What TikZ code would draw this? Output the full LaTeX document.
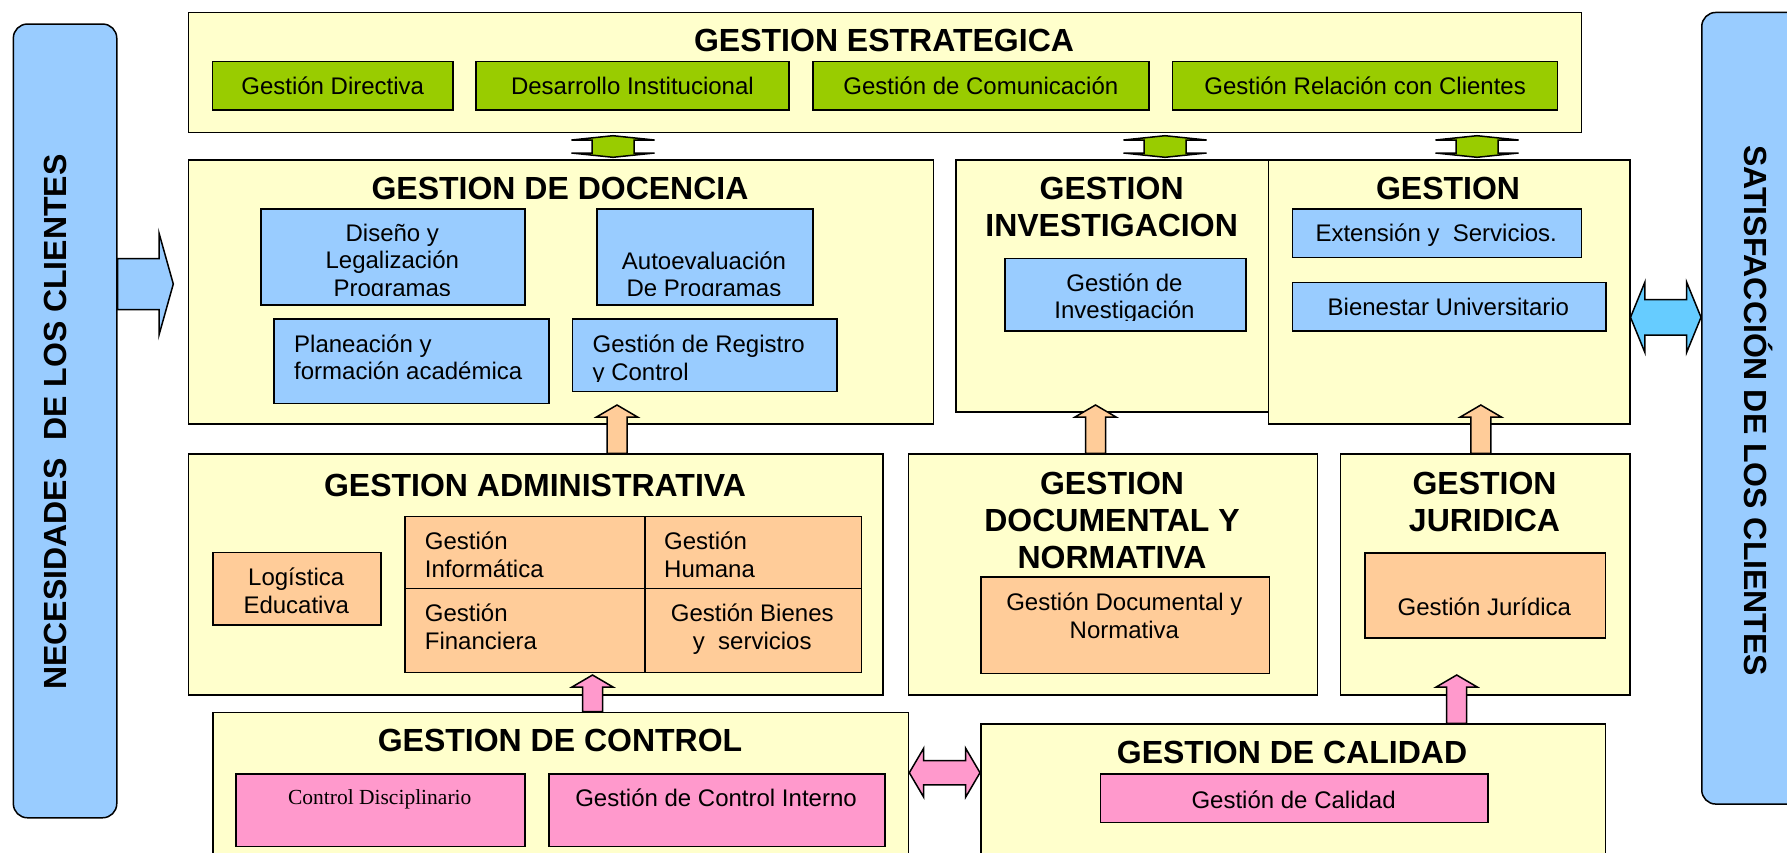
\documentclass[tikz,border=0pt]{standalone}
\usepackage{fontspec}
\setmainfont{Liberation Sans}
\newfontfamily\serifcd{Liberation Serif}
\usetikzlibrary{calc}

\definecolor{paleyellow}{HTML}{FFFFCC}
\definecolor{leafgreen}{HTML}{99CC00}
\definecolor{skyblue}{HTML}{99CCFF}
\definecolor{cyanarrow}{HTML}{66CCFF}
\definecolor{peach}{HTML}{FFCC99}
\definecolor{rosepink}{HTML}{FF99CC}

\tikzset{
  block/.style={draw, line width=1.5pt, fill=paleyellow, inner sep=0pt},
  greenbox/.style={block, fill=leafgreen},
  bluebox/.style={block, fill=skyblue},
  peachbox/.style={block, fill=peach},
  pinkbox/.style={block, fill=rosepink},
  sidebar/.style={block, fill=skyblue, rounded corners=14pt},
  title/.style={inner sep=0pt, align=center, font=\fontsize{32}{37}\selectfont\bfseries},
  txt/.style={inner sep=0pt, align=center, font=\fontsize{24}{27.5}\selectfont},
  sidetxt/.style={inner sep=0pt, font=\fontsize{32}{36}\selectfont\bfseries},
  blockarrow/.style={draw, line width=1.5pt, line join=miter},
}

% box given by its top left and bottom right corners
\newcommand{\cornerbox}[6]{%
  \pgfmathsetmacro{\boxw}{#5-#3}\pgfmathsetmacro{\boxh}{#6-#4}%
  \node[#1, anchor=north west, minimum width=\boxw pt, minimum height=\boxh pt] (#2) at (#3,#4) {};}

% block arrow pointing up: tip, base (only its y is used)
\newcommand{\uparrowbox}[3]{%
  \draw[blockarrow, #1] let \p1=(#2), \p2=(#3) in
    (\p1) -- (\x1+20.5pt,\y1-12pt) -- (\x1+10pt,\y1-12pt) -- (\x1+10pt,\y2)
    -- (\x1-10pt,\y2) -- (\x1-10pt,\y1-12pt) -- (\x1-20.5pt,\y1-12pt) -- cycle;}

% block arrow pointing right: base (only its x is used), tip
\newcommand{\rightarrowbox}[3]{%
  \draw[blockarrow, #1] let \p1=(#2), \p2=(#3) in
    (\x1,\y2+25.5pt) -- (\x2-14.3pt,\y2+25.5pt) -- (\x2-14.3pt,\y2+51pt) -- (\p2)
    -- (\x2-14.3pt,\y2-51pt) -- (\x2-14.3pt,\y2-25.5pt) -- (\x1,\y2-25.5pt) -- cycle;}

% flat up/down arrow between the bottom of #2 and the top of #3, at the x of #4
\newcommand{\vdblarrow}[4]{%
  \draw[blockarrow, #1] let \p1=(#2), \p2=(#3), \p3=(#4) in
    (\x3,\y1-2.5pt) -- (\x3+41.5pt,\y1-6.8pt) -- (\x3+21pt,\y1-6.8pt) -- (\x3+21pt,\y2+6pt)
    -- (\x3+41.5pt,\y2+6pt) -- (\x3,\y2+1.7pt) -- (\x3-41.5pt,\y2+6pt) -- (\x3-21pt,\y2+6pt)
    -- (\x3-21pt,\y1-6.8pt) -- (\x3-41.5pt,\y1-6.8pt) -- cycle;}

% left/right arrow: left end, right end, y point, half head, half body, head length
\newcommand{\hdblarrow}[7]{%
  \draw[blockarrow, #1] let \p1=(#2), \p2=(#3), \p3=(#4) in
    (\x1,\y3) -- (\x1+#7pt,\y3+#5pt) -- (\x1+#7pt,\y3+#6pt) -- (\x2-#7pt,\y3+#6pt)
    -- (\x2-#7pt,\y3+#5pt) -- (\x2,\y3) -- (\x2-#7pt,\y3-#5pt) -- (\x2-#7pt,\y3-#6pt)
    -- (\x1+#7pt,\y3-#6pt) -- (\x1+#7pt,\y3-#5pt) -- cycle;}

\begin{document}
\begin{tikzpicture}[x=1pt,y=-1pt]
  \useasboundingbox (0,0) rectangle (1787,852);

  % side bars
  \cornerbox{sidebar}{lbar}{12.6}{23.3}{116}{817}
  \cornerbox{sidebar}{rbar}{1701}{11.7}{1805}{803.3}
  \node[sidetxt, rotate=90] (lbarT) at (55,422) {NECESIDADES\ \ DE LOS CLIENTES};
  \node[sidetxt, rotate=-90] (rbarT) at (1758,410.7) {SATISFACCIÓN DE LOS CLIENTES};

  % gestion estrategica
  \cornerbox{block}{est}{187.5}{11.7}{1580.7}{131.7}
  \node[title] (estT) at (884,40) {GESTION ESTRATEGICA};
  \cornerbox{greenbox}{g1}{211.6}{60.7}{452.3}{109}
  \cornerbox{greenbox}{g2}{475.3}{60.7}{788}{109}
  \cornerbox{greenbox}{g3}{812}{60.7}{1148.2}{109}
  \cornerbox{greenbox}{g4}{1171.9}{60.7}{1556.8}{109}
  \node[txt] (g1T) at (g1.center) {Gestión Directiva};
  \node[txt] (g2T) at (g2.center) {Desarrollo Institucional};
  \node[txt] (g3T) at (g3.center) {Gestión de Comunicación};
  \node[txt] (g4T) at (g4.center) {Gestión Relación con Clientes};

  % gestion de docencia
  \cornerbox{block}{doc}{187.5}{159}{932.6}{423.3}
  \node[title] (docT) at (560,188.3) {GESTION DE DOCENCIA};
  \cornerbox{bluebox}{dis}{260.2}{208.3}{524.3}{304}
  \cornerbox{bluebox}{aut}{596}{208.3}{812}{304}
  \cornerbox{bluebox}{pla}{273.2}{318.3}{548.4}{402.7}
  \cornerbox{bluebox}{reg}{571.9}{318.3}{836.2}{390.7}
  \begin{scope}
    \clip (260.2,208.3) rectangle (524.3,295);
    \node[txt] (disT) at (392.3,262.5) {Diseño y\\Legalización\\Programas};
  \end{scope}
  \begin{scope}
    \clip (596,208.3) rectangle (812,295);
    \node[txt] (autT) at (704,276.4) {Autoevaluación\\De Programas};
  \end{scope}
  \node[txt, align=left, anchor=west] (plaT) at (294,357.5) {Planeación y\\formación académica};
  \begin{scope}
    \clip (571.9,318.3) rectangle (836.2,381);
    \node[txt, align=left, anchor=west] (regT) at (592.4,360) {Gestión de Registro\\y Control};
  \end{scope}

  % gestion investigacion
  \cornerbox{block}{inv}{955.4}{159}{1267.8}{411}
  \node[title] (invT) at (1111.6,206.5) {GESTION\\INVESTIGACION};
  \cornerbox{bluebox}{ginv}{1004}{257.7}{1245}{330}
  \begin{scope}
    \clip (1004,257.7) rectangle (1245,320);
    \node[txt] (ginvT) at (1124.5,298.8) {Gestión de\\Investigación};
  \end{scope}

  % gestion (extension)
  \cornerbox{block}{ext}{1267.8}{159}{1629}{423.3}
  \node[title] (extT) at (1448,188) {GESTION};
  \cornerbox{bluebox}{exs}{1291.7}{208.3}{1580.7}{256.7}
  \cornerbox{bluebox}{bie}{1291.7}{281.7}{1605}{330}
  \node[txt] (exsT) at (1436.2,235) {Extensión y\ \ Servicios.};
  \node[txt] (bieT) at (1448.4,306.5) {Bienestar Universitario};

  % gestion administrativa
  \cornerbox{block}{adm}{187.7}{453.3}{882.2}{694}
  \node[title] (admT) at (535,485) {GESTION ADMINISTRATIVA};
  \cornerbox{peachbox}{log}{212.4}{551.7}{380}{624}
  \node[txt] (logT) at (296.2,591) {Logística\\Educativa};
  \cornerbox{peachbox}{inf}{404}{515.7}{644}{587.7}
  \cornerbox{peachbox}{hum}{644}{515.7}{860.5}{587.7}
  \cornerbox{peachbox}{fin}{404}{587.7}{644}{671.7}
  \cornerbox{peachbox}{bns}{644}{587.7}{860.5}{671.7}
  \node[txt, align=left, anchor=west] (infT) at (424.7,554.8) {Gestión\\Informática};
  \node[txt, align=left, anchor=west] (humT) at (664,554.8) {Gestión\\Humana};
  \node[txt, align=left, anchor=west] (finT) at (424.7,626.8) {Gestión\\Financiera};
  \node[txt] (bnsT) at (752.25,629.3) {Gestión Bienes\\y\ \ servicios};

  % gestion documental y normativa
  \cornerbox{block}{dnm}{907.8}{453.3}{1316.7}{694}
  \node[title] (dnmT) at (1112,520) {GESTION\\DOCUMENTAL Y\\NORMATIVA};
  \cornerbox{peachbox}{gdn}{980}{576}{1268.7}{672.7}
  \node[txt] (gdnT) at (1124.35,616) {Gestión Documental y\\Normativa};

  % gestion juridica
  \cornerbox{block}{jur}{1339.9}{453.3}{1629}{694}
  \node[title] (jurT) at (1484.5,501.7) {GESTION\\JURIDICA};
  \cornerbox{peachbox}{gju}{1364}{552.3}{1604.8}{637}
  \node[txt] (gjuT) at (1484.4,607) {Gestión Jurídica};

  % gestion de control
  \cornerbox{block}{ctl}{212.4}{711.7}{907.8}{880}
  \node[title] (ctlT) at (560,740.7) {GESTION DE CONTROL};
  \cornerbox{pinkbox}{cdi}{235.3}{773.3}{524}{845.7}
  \cornerbox{pinkbox}{cin}{548}{773.3}{884}{845.7}
  \node[inner sep=0pt, font=\serifcd\fontsize{21.5}{25}\selectfont] (cdiT) at (379.7,799.7) {Control Disciplinario};
  \node[txt] (cinT) at (716,797.7) {Gestión de Control Interno};

  % gestion de calidad
  \cornerbox{block}{cal}{980}{723.3}{1604.8}{880}
  \node[title] (calT) at (1292,752.3) {GESTION DE CALIDAD};
  \cornerbox{pinkbox}{gca}{1099.8}{773.3}{1487.4}{821.7}
  \node[txt] (gcaT) at (1293.6,799.3) {Gestión de Calidad};

  % arrow ends
  \coordinate (ga1) at (613,145);
  \coordinate (ga2) at (1165,145);
  \coordinate (ga3) at (1477,145);
  \coordinate (oa1) at (617,405);
  \coordinate (oa2) at (1095.5,405);
  \coordinate (oa3) at (1480.8,405);
  \coordinate (pa1) at (592.5,675);
  \coordinate (pa2) at (1456.7,675);
  \coordinate (la) at (173.3,284);
  \coordinate (ba) at (1660,317.3);
  \coordinate (pd) at (940,772.7);

  % block arrows
  \vdblarrow{fill=leafgreen}{est.south}{doc.north}{ga1}
  \vdblarrow{fill=leafgreen}{est.south}{inv.north}{ga2}
  \vdblarrow{fill=leafgreen}{est.south}{ext.north}{ga3}
  \uparrowbox{fill=peach}{oa1}{adm.north}
  \uparrowbox{fill=peach}{oa2}{dnm.north}
  \uparrowbox{fill=peach}{oa3}{jur.north}
  \uparrowbox{fill=rosepink}{pa1}{ctl.north}
  \uparrowbox{fill=rosepink}{pa2}{cal.north}
  \rightarrowbox{fill=skyblue}{lbar.east}{la}
  \hdblarrow{fill=cyanarrow}{ext.east}{rbar.west}{ba}{35.2}{17.8}{14.4}
  \hdblarrow{fill=rosepink}{ctl.east}{cal.west}{pd}{24.5}{12.2}{14.4}
\end{tikzpicture}
\end{document}
